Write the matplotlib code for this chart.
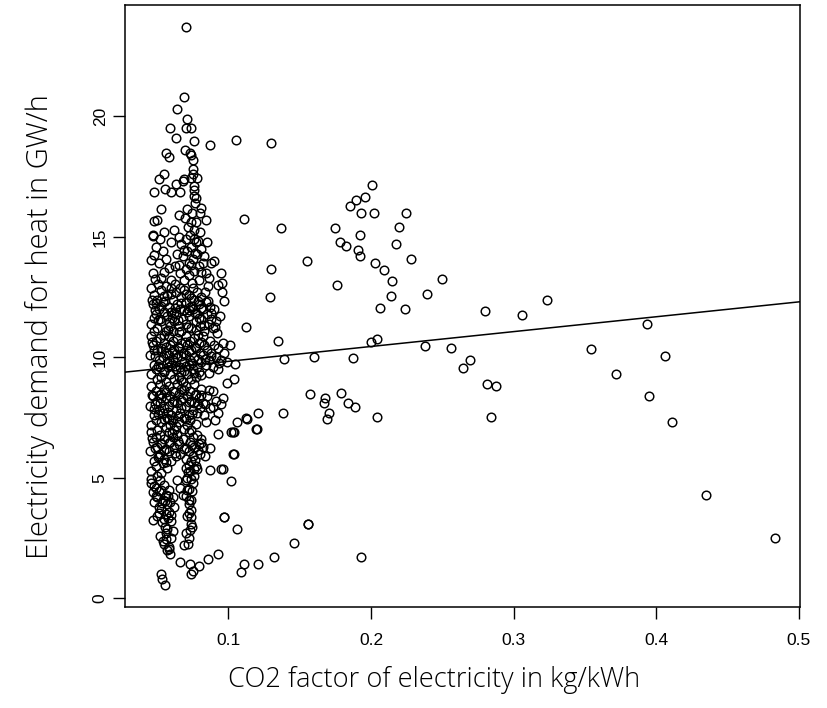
import matplotlib
matplotlib.use('Agg')
import matplotlib.pyplot as plt
import numpy as np

# Punkte rechts vom Hauptcluster (CO2-Faktor in kg/kWh, Strombedarf in GW/h)
outer = [
    (0.105, 19.03), (0.130, 18.89), (0.111, 15.73), (0.1366, 15.36), (0.1548, 14.0),
    (0.130, 13.67), (0.129, 12.5), (0.112, 11.28), (0.135, 10.7), (0.139, 9.95),
    (0.160, 10.03), (0.2007, 17.14), (0.196, 16.65), (0.1895, 16.52), (0.185, 16.30),
    (0.193, 16.01), (0.202, 16.01), (0.2247, 16.01), (0.2198, 15.43), (0.175, 15.36),
    (0.192, 15.07), (0.1785, 14.77), (0.1825, 14.64), (0.2175, 14.72), (0.191, 14.44),
    (0.192, 14.19), (0.203, 13.91), (0.209, 13.62), (0.228, 14.07), (0.215, 13.19),
    (0.250, 13.26), (0.176, 12.99), (0.214, 12.56), (0.239, 12.63), (0.2065, 12.05),
    (0.2235, 11.99), (0.280, 11.91), (0.3056, 11.77), (0.3236, 12.40), (0.354, 10.34),
    (0.204, 10.77), (0.200, 10.63), (0.238, 10.48), (0.256, 10.41), (0.2695, 9.91),
    (0.2645, 9.55), (0.187, 9.97), (0.281, 8.90), (0.2876, 8.83), (0.157, 8.47),
    (0.168, 8.33), (0.167, 8.12), (0.179, 8.54), (0.1837, 8.12), (0.1886, 7.96),
    (0.1706, 7.68), (0.169, 7.44), (0.2042, 7.54), (0.2839, 7.54), (0.1557, 3.08),
    (0.193, 1.72), (0.3935, 11.39), (0.4058, 10.05), (0.372, 9.33), (0.395, 8.40),
    (0.4107, 7.32), (0.4348, 4.30), (0.4832, 2.51), (0.138, 7.68), (0.121, 7.68),
    (0.120, 7.03), (0.113, 7.44), (0.106, 7.33), (0.104, 6.9), (0.102, 6.9),
    (0.104, 5.99), (0.096, 5.39), (0.102, 4.88), (0.097, 3.38), (0.106, 2.87),
    (0.111, 1.44), (0.109, 1.08), (0.121, 1.44), (0.132, 1.72), (0.146, 2.30),
    (0.156, 3.09),
]

# oberer Teil des Clusters (y > 15)
upper = [
    (0.070, 23.7), (0.069, 20.8), (0.064, 20.3), (0.071, 19.9), (0.059, 19.5),
    (0.070, 19.5), (0.074, 19.5), (0.063, 19.1), (0.076, 19.0), (0.087, 18.8),
    (0.0695, 18.6), (0.073, 18.5), (0.074, 18.4), (0.056, 18.5), (0.058, 18.3),
    (0.075, 18.2), (0.075, 17.8), (0.055, 17.6), (0.051, 17.4), (0.069, 17.4),
    (0.068, 17.3), (0.074, 17.45), (0.078, 17.45), (0.063, 17.2), (0.0555, 17.0),
    (0.0757, 16.95), (0.060, 16.85), (0.066, 16.85), (0.048, 16.85), (0.077, 16.6),
    (0.081, 16.2), (0.053, 16.15), (0.071, 16.15), (0.065, 15.9), (0.080, 16.0),
    (0.084, 15.7), (0.048, 15.65), (0.050, 15.7), (0.047, 15.1), (0.075, 17.6),
    (0.0755, 17.1), (0.076, 16.7), (0.0765, 16.4), (0.0745, 16.0), (0.077, 15.6),
    (0.076, 15.3),
]

band_13_15 = [
    (0.047, 15.05), (0.0478, 14.25), (0.0457, 14.05), (0.0474, 13.5), (0.049, 14.6),
    (0.052, 14.9), (0.054, 14.4), (0.051, 13.9), (0.056, 14.1), (0.058, 13.7),
    (0.053, 13.3), (0.055, 15.2), (0.060, 14.8), (0.062, 15.3), (0.0596, 13.2),
    (0.065, 15.0), (0.067, 14.7), (0.068, 14.2), (0.070, 14.9), (0.071, 14.4),
    (0.072, 13.9), (0.073, 15.1), (0.074, 14.6), (0.075, 14.1), (0.076, 13.6),
    (0.077, 14.8), (0.078, 14.3), (0.079, 13.8), (0.080, 15.2), (0.081, 14.5),
    (0.082, 13.9), (0.083, 14.2), (0.084, 13.5), (0.085, 14.8), (0.086, 13.3),
    (0.088, 13.9), (0.066, 13.5), (0.069, 13.2), (0.072, 13.4), (0.0745, 13.1),
    (0.079, 13.2), (0.0625, 13.8), (0.064, 14.3), (0.090, 14.0), (0.095, 13.5),
    (0.0956, 13.1), (0.0958, 12.7), (0.097, 12.35), (0.093, 13.0),
    (0.0485, 13.25), (0.0505, 13.05), (0.0545, 13.55), (0.0625, 13.05), (0.0655, 13.85),
    (0.0685, 14.45), (0.0705, 13.65), (0.0735, 13.85), (0.0765, 14.35), (0.0785, 14.85),
    (0.0805, 13.55), (0.0735, 15.6), (0.0755, 14.9), (0.0715, 15.4), (0.0695, 15.8),
]

band_11_13 = [
    (0.046, 12.9), (0.048, 12.6), (0.047, 12.2), (0.049, 11.8), (0.046, 11.4),
    (0.048, 11.1), (0.050, 12.4), (0.051, 12.0), (0.052, 11.6), (0.050, 11.2),
    (0.053, 12.8), (0.054, 12.3), (0.055, 11.9), (0.053, 11.5), (0.056, 11.1),
    (0.057, 12.6), (0.058, 12.1), (0.057, 11.7), (0.059, 11.3), (0.060, 12.9),
    (0.061, 12.4), (0.060, 11.9), (0.062, 11.5), (0.061, 11.1), (0.063, 12.7),
    (0.064, 12.2), (0.063, 11.8), (0.065, 11.3), (0.066, 12.9), (0.067, 12.5),
    (0.066, 12.0), (0.068, 11.6), (0.067, 11.1), (0.069, 12.8), (0.070, 12.3),
    (0.071, 11.9), (0.070, 11.4), (0.072, 12.6), (0.073, 12.1), (0.072, 11.7),
    (0.074, 11.2), (0.075, 12.9), (0.076, 12.4), (0.075, 12.0), (0.077, 11.5),
    (0.078, 12.7), (0.079, 12.2), (0.078, 11.8), (0.080, 11.3), (0.081, 12.5),
    (0.082, 12.0), (0.081, 11.6), (0.083, 11.1), (0.084, 12.3), (0.085, 11.8),
    (0.086, 11.4), (0.087, 12.1), (0.088, 11.6), (0.089, 11.2), (0.090, 12.0),
    (0.091, 11.5), (0.092, 11.0), (0.094, 11.7), (0.0545, 12.55), (0.0585, 11.45),
    (0.0625, 12.05), (0.0685, 11.95), (0.0735, 12.45), (0.0795, 11.65), (0.0495, 12.25),
    (0.0475, 11.65), (0.0565, 12.95), (0.0715, 11.25), (0.0775, 11.15), (0.0835, 12.7),
    (0.0855, 12.95), (0.0655, 11.05), (0.0605, 11.65),
    (0.0465, 12.4), (0.0485, 11.95), (0.0505, 11.55), (0.0525, 12.15), (0.0555, 12.35),
    (0.0575, 11.15), (0.0595, 12.65), (0.0615, 11.85), (0.0645, 11.55), (0.0665, 12.25),
    (0.0705, 12.65), (0.0725, 11.95), (0.0745, 12.15), (0.0765, 11.85), (0.0785, 12.35),
    (0.0805, 12.05), (0.0825, 11.35), (0.0855, 12.35), (0.0875, 11.85), (0.0905, 11.25),
]

band_9_11 = [
    (0.046, 10.9), (0.047, 10.5), (0.045, 10.1), (0.048, 9.7), (0.046, 9.3),
    (0.049, 10.7), (0.050, 10.3), (0.051, 9.9), (0.049, 9.5), (0.050, 9.1),
    (0.052, 10.8), (0.053, 10.4), (0.054, 10.0), (0.052, 9.6), (0.053, 9.2),
    (0.055, 10.6), (0.056, 10.2), (0.057, 9.8), (0.055, 9.4), (0.056, 9.0),
    (0.058, 10.9), (0.059, 10.5), (0.058, 10.1), (0.060, 9.7), (0.059, 9.3),
    (0.061, 10.7), (0.062, 10.3), (0.061, 9.9), (0.063, 9.5), (0.062, 9.1),
    (0.064, 10.8), (0.065, 10.4), (0.064, 10.0), (0.066, 9.6), (0.065, 9.2),
    (0.067, 10.6), (0.068, 10.2), (0.069, 9.8), (0.067, 9.4), (0.068, 9.0),
    (0.070, 10.9), (0.071, 10.5), (0.070, 10.1), (0.072, 9.7), (0.071, 9.3),
    (0.073, 10.7), (0.074, 10.3), (0.073, 9.9), (0.075, 9.5), (0.074, 9.1),
    (0.076, 10.8), (0.077, 10.4), (0.076, 10.0), (0.078, 9.6), (0.077, 9.2),
    (0.079, 10.6), (0.080, 10.2), (0.081, 9.8), (0.079, 9.4), (0.082, 10.9),
    (0.083, 10.5), (0.082, 10.1), (0.084, 9.7), (0.085, 10.3), (0.086, 9.9),
    (0.087, 10.7), (0.088, 10.2), (0.089, 9.6), (0.090, 10.5), (0.091, 10.0),
    (0.093, 10.4), (0.095, 9.9), (0.097, 10.2), (0.099, 9.8), (0.1044, 9.72),
    (0.104, 9.1), (0.099, 8.93), (0.101, 10.5), (0.0475, 10.3), (0.0575, 9.6),
    (0.0635, 10.15), (0.0695, 10.65), (0.0755, 9.35), (0.0805, 9.25), (0.0865, 9.35),
    (0.0925, 9.5), (0.0545, 10.95), (0.0665, 9.05), (0.0785, 10.95),
    (0.0465, 10.65), (0.0485, 10.05), (0.0505, 9.65), (0.0525, 10.25), (0.0545, 9.45),
    (0.0565, 10.45), (0.0585, 9.85), (0.0605, 10.25), (0.0625, 9.65), (0.0645, 10.45),
    (0.0665, 10.05), (0.0685, 9.45), (0.0705, 9.65), (0.0725, 10.25), (0.0745, 9.75),
    (0.0765, 10.45), (0.0785, 9.95), (0.0805, 10.65), (0.0835, 9.95), (0.0875, 10.05),
    (0.0935, 9.75), (0.0965, 10.6),
]

band_7_9 = [
    (0.046, 8.8), (0.047, 8.4), (0.045, 8.0), (0.048, 7.6), (0.046, 7.2),
    (0.049, 8.6), (0.050, 8.2), (0.051, 7.8), (0.049, 7.4), (0.050, 7.0),
    (0.052, 8.9), (0.053, 8.5), (0.052, 8.1), (0.054, 7.7), (0.053, 7.3),
    (0.055, 8.7), (0.056, 8.3), (0.055, 7.9), (0.057, 7.5), (0.056, 7.1),
    (0.058, 8.8), (0.059, 8.4), (0.058, 8.0), (0.060, 7.6), (0.059, 7.2),
    (0.061, 8.6), (0.062, 8.2), (0.063, 7.8), (0.061, 7.4), (0.062, 7.0),
    (0.064, 8.9), (0.065, 8.5), (0.064, 8.1), (0.066, 7.7), (0.065, 7.3),
    (0.067, 8.7), (0.068, 8.3), (0.067, 7.9), (0.069, 7.5), (0.070, 8.8),
    (0.071, 8.4), (0.070, 8.0), (0.072, 7.6), (0.071, 7.2), (0.073, 8.6),
    (0.074, 8.2), (0.075, 7.8), (0.073, 7.4), (0.074, 7.0), (0.076, 8.9),
    (0.077, 8.5), (0.076, 8.1), (0.078, 7.7), (0.079, 8.3), (0.080, 7.9),
    (0.081, 8.7), (0.082, 8.1), (0.083, 7.6), (0.085, 8.4), (0.087, 7.9),
    (0.089, 8.6), (0.091, 8.2), (0.093, 7.7), (0.096, 8.3), (0.0635, 7.15),
    (0.0575, 7.75), (0.0685, 7.05), (0.0515, 8.45), (0.0475, 7.85), (0.0775, 7.25),
    (0.0845, 7.3), (0.0905, 7.4),
    (0.0465, 8.45), (0.0485, 8.05), (0.0505, 7.65), (0.0525, 8.3), (0.0545, 7.45),
    (0.0565, 8.55), (0.0585, 7.45), (0.0605, 8.15), (0.0625, 8.55), (0.0645, 7.55),
    (0.0665, 8.25), (0.0685, 8.65), (0.0705, 7.45), (0.0725, 8.15), (0.0745, 7.65),
    (0.0765, 8.45), (0.0785, 8.05), (0.0805, 8.45), (0.0835, 8.05), (0.0865, 8.65),
    (0.0895, 7.95), (0.0945, 8.05),
]

band_5_7 = [
    (0.046, 6.9), (0.047, 6.5), (0.045, 6.1), (0.048, 5.7), (0.046, 5.3),
    (0.049, 6.7), (0.050, 6.3), (0.051, 5.9), (0.049, 5.5), (0.050, 5.1),
    (0.052, 6.8), (0.053, 6.4), (0.052, 6.0), (0.054, 5.6), (0.053, 5.2),
    (0.055, 6.6), (0.056, 6.2), (0.055, 5.8), (0.057, 5.4), (0.058, 6.9),
    (0.059, 6.5), (0.058, 6.1), (0.060, 5.7), (0.061, 6.7), (0.062, 6.3),
    (0.063, 5.9), (0.064, 6.8), (0.065, 6.4), (0.066, 6.0), (0.068, 6.6),
    (0.069, 6.2), (0.070, 5.8), (0.070, 5.4), (0.071, 5.0), (0.072, 6.9),
    (0.073, 6.5), (0.072, 6.1), (0.074, 5.7), (0.073, 5.3), (0.075, 6.7),
    (0.076, 6.3), (0.075, 5.9), (0.077, 5.5), (0.076, 5.1), (0.078, 6.8),
    (0.079, 6.4), (0.080, 6.0), (0.081, 6.6), (0.0823, 6.29), (0.087, 6.25),
    (0.0835, 5.9), (0.103, 6.0), (0.095, 5.39), (0.087, 5.31), (0.078, 5.39),
    (0.075, 4.8), (0.0457, 4.95), (0.0928, 6.81), (0.103, 6.9), (0.1196, 7.03),
    (0.1126, 7.47),
    (0.0465, 6.65), (0.0485, 6.25), (0.0505, 5.85), (0.0525, 6.45), (0.0545, 6.15),
    (0.0565, 5.65), (0.0585, 6.45), (0.0605, 6.85), (0.0625, 6.05), (0.0645, 6.55),
    (0.0705, 6.25), (0.0725, 5.55), (0.0745, 6.35), (0.0765, 5.75), (0.0785, 6.15),
    (0.0805, 6.45), (0.0715, 5.25), (0.0735, 4.95), (0.0755, 5.35),
]

band_3_5 = [
    (0.046, 4.8), (0.047, 4.4), (0.048, 4.0), (0.0474, 3.24), (0.049, 4.6),
    (0.050, 4.2), (0.051, 3.8), (0.050, 3.4), (0.052, 4.9), (0.053, 4.5),
    (0.054, 4.1), (0.053, 3.7), (0.055, 3.3), (0.055, 4.7), (0.056, 4.3),
    (0.057, 3.9), (0.056, 3.5), (0.058, 4.5), (0.059, 4.0), (0.058, 3.6),
    (0.060, 3.2), (0.061, 4.2), (0.062, 3.8), (0.070, 4.9), (0.071, 4.5),
    (0.072, 4.1), (0.0736, 4.07), (0.0735, 3.65), (0.074, 3.37), (0.0735, 3.1),
    (0.073, 2.83), (0.071, 3.4), (0.072, 3.9), (0.066, 4.6), (0.064, 4.9),
    (0.068, 4.3), (0.0967, 3.38),
    (0.0475, 4.65), (0.0495, 4.25), (0.0515, 4.45), (0.0535, 3.95), (0.0555, 4.05),
    (0.0575, 4.25), (0.0595, 3.45), (0.0515, 3.55), (0.0535, 3.15), (0.0555, 2.95),
    (0.0575, 3.35), (0.0705, 4.25), (0.0725, 4.55), (0.0745, 4.45), (0.0725, 3.55),
    (0.0745, 2.95),
]

band_0_3 = [
    (0.069, 2.23), (0.058, 2.07), (0.059, 1.86), (0.0566, 2.0), (0.058, 2.13),
    (0.066, 1.51), (0.073, 1.44), (0.079, 1.36), (0.0858, 1.62), (0.0928, 1.86),
    (0.075, 1.13), (0.074, 1.0), (0.053, 1.03), (0.0536, 0.80), (0.0554, 0.57),
    (0.052, 2.6), (0.054, 2.4), (0.056, 2.7), (0.057, 2.9), (0.060, 2.5),
    (0.061, 2.8), (0.072, 2.5), (0.070, 2.7), (0.0715, 2.25), (0.0545, 2.25),
    (0.0565, 2.45),
]

# Regressionsgerade (abline)
intercept = 9.22
slope = 6.17

xticks = [0.1, 0.2, 0.3, 0.4, 0.5]
yticks = [0, 5, 10, 15, 20]

pts = np.array(outer + upper + band_13_15 + band_11_13 + band_9_11
               + band_7_9 + band_5_7 + band_3_5 + band_0_3)
x = pts[:, 0]
y = pts[:, 1]

fig = plt.figure(figsize=(8.28, 7.08), dpi=100)
ax = fig.add_axes([0.151, 0.1427, 0.8152, 0.8503])

ax.plot(x, y, 'o', ls='none', ms=6.2, mfc='none', mec='black', mew=1.05)
ax.axline((0, intercept), slope=slope, color='black', lw=1.1)

# Achsengrenzen wie in R (4 % Rand)
dx = (x.max() - x.min()) * 0.04
dy = (y.max() - y.min()) * 0.04
ax.set_xlim(x.min() - dx, x.max() + dx)
ax.set_ylim(y.min() - dy, y.max() + dy)

ax.set_xticks(xticks)
ax.set_xticklabels([str(v) for v in xticks])
ax.set_yticks(yticks)
ax.set_yticklabels([str(v) for v in yticks], rotation=90, va='center')
ax.tick_params(direction='out', length=8.5, width=1.0, colors='black')
ax.tick_params(axis='x', pad=10)
ax.tick_params(axis='y', pad=4)
for lab in ax.get_xticklabels() + ax.get_yticklabels():
    lab.set_fontfamily(['Liberation Sans Narrow', 'Liberation Sans'])
    lab.set_fontsize(12.5)
for s in ax.spines.values():
    s.set_linewidth(1.1)

ax.set_xlabel('CO2 factor of electricity in kg/kWh', fontsize=19.6,
              family='Open Sans', fontweight='light', va='center')
ax.xaxis.set_label_coords(0.458, -0.121)
ax.set_ylabel('Electricity demand for heat in GW/h', fontsize=21,
              family='Open Sans', fontweight='light', va='center')
ax.yaxis.set_label_coords(-0.126, 0.465)

plt.savefig('out.png', dpi=100)
